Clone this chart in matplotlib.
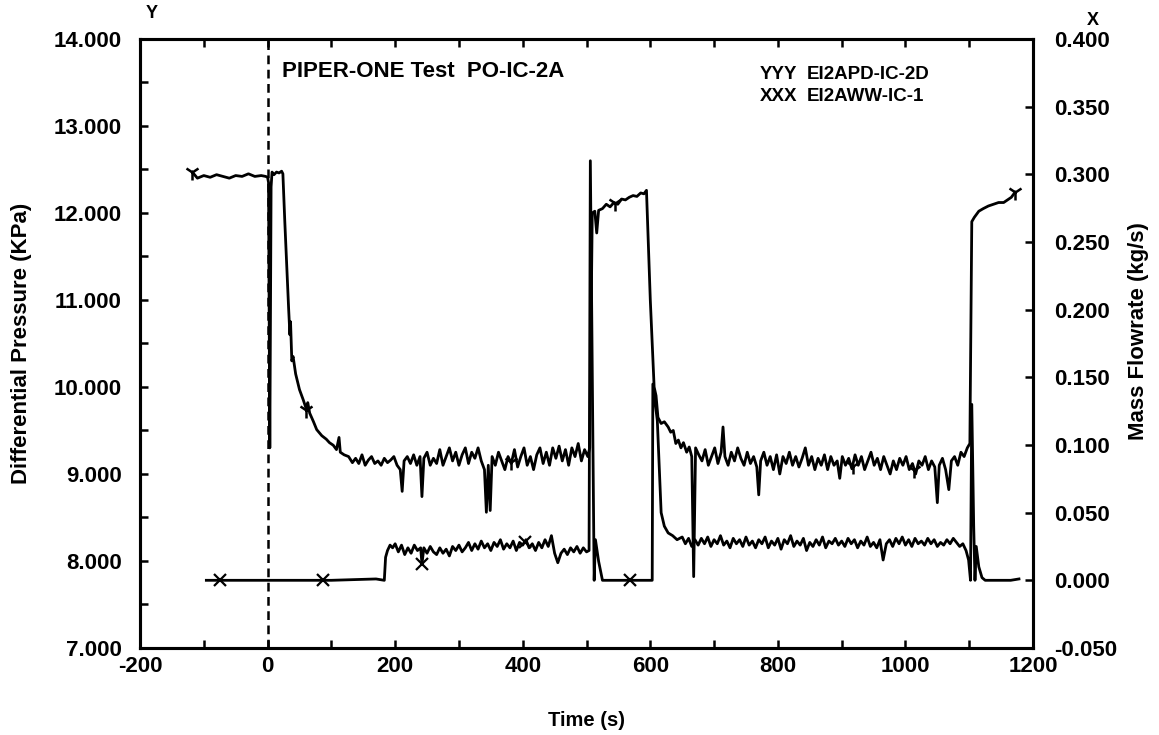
# PIPER-ONE test PO-IC-2A: differential pressure (left axis) and mass flowrate
# (right axis) against time, redrawn from the scanned plot.

import numpy as np
import matplotlib
matplotlib.use('Agg')
import matplotlib.pyplot as plt
from matplotlib.ticker import MultipleLocator, FormatStrFormatter

plt.rcParams['font.family'] = ['Liberation Sans', 'DejaVu Sans']
plt.rcParams['font.weight'] = 'bold'

# ---- curve YYY : EI2APD-IC-2D, differential pressure (KPa) ----
t_dp = [-118, -110, -100, -90, -80, -70, -60, -50, -40, -30, -20, -10, -3, 0,
        1.5, 3.5, 5.5, 7, 10, 14, 18, 22, 24,
        27, 30, 33, 35, 36, 38, 40, 44, 50, 56, 61, 63, 66, 72, 77, 85, 92, 97,
        103, 108, 112, 114, 120, 127, 133,
        138, 143, 148, 153, 158, 163, 168, 173, 178, 183, 188, 193, 198, 203,
        208, 211, 214, 219, 224, 229, 234, 239, 242, 245, 250, 255, 260, 265,
        270, 275, 280, 285, 290, 295, 300, 305, 310, 315, 320, 325, 330, 335,
        340, 343, 346, 349, 352, 357, 362, 367, 372, 377, 382, 387, 392, 397,
        402, 407, 412, 417, 422, 427, 432, 437, 442, 447, 452, 457, 462, 467,
        472, 477, 482, 487, 492, 497, 502, 505,
        509, 513, 516, 519, 525, 531, 537, 543, 549, 555, 561, 567, 573, 579,
        585, 590, 594,
        600, 606, 609, 612, 617, 622, 628, 632, 636, 640, 644, 648, 652, 657, 661,
        665, 668, 671, 676, 681, 686, 691, 696, 701, 706, 711, 714, 717, 722,
        727, 732, 737, 742, 747, 752, 757, 762, 767, 770, 773, 778, 783, 788,
        793, 798, 803, 808, 813, 818, 823, 828, 833, 838, 843, 848, 853, 858,
        863, 868, 873, 878, 883, 888, 893, 897, 901, 906, 911, 916, 921, 926,
        931, 936, 941, 946, 951, 956, 961, 966, 971, 976, 981, 986, 991, 996,
        1001, 1006, 1011, 1016, 1021, 1026, 1031, 1036, 1041, 1046, 1050, 1053,
        1058, 1063, 1068, 1072, 1077, 1082, 1087, 1092, 1097, 1101,
        1104, 1108, 1115, 1122, 1130, 1138, 1146, 1154, 1160, 1166, 1172]
dp = [12.47, 12.40, 12.43, 12.41, 12.44, 12.42, 12.40, 12.43, 12.42, 12.45, 12.42, 12.43, 12.42, 12.41,
      12.35, 9.30, 12.30, 12.47, 12.44, 12.47, 12.46, 12.48, 12.45,
      11.90, 11.40, 10.90, 10.60, 10.75, 10.30, 10.35, 10.15, 9.97, 9.85, 9.74, 9.82, 9.70, 9.60, 9.51, 9.44, 9.40, 9.36,
      9.33, 9.28, 9.42, 9.25, 9.22, 9.20, 9.13,
      9.18, 9.12, 9.22, 9.10, 9.16, 9.20, 9.12, 9.15, 9.10, 9.18, 9.13, 9.16, 9.20, 9.10,
      9.05, 8.80, 9.15, 9.20, 9.12, 9.22, 9.10, 9.20, 8.74, 9.18, 9.25, 9.10, 9.18, 9.12,
      9.28, 9.10, 9.20, 9.30, 9.15, 9.25, 9.10, 9.22, 9.30, 9.12, 9.25, 9.18, 9.30, 9.15,
      9.05, 8.56, 9.10, 8.58, 9.20, 9.10, 9.25, 9.15, 9.05, 9.20, 9.12, 9.28, 9.08, 9.20,
      9.30, 9.10, 9.20, 9.05, 9.22, 9.30, 9.12, 9.25, 9.10, 9.30, 9.18, 9.32, 9.15, 9.28,
      9.10, 9.30, 9.20, 9.35, 9.15, 9.28, 9.20, 9.30,
      12.00, 12.02, 11.77, 12.03, 12.05, 12.10, 12.07, 12.12, 12.10, 12.16, 12.15, 12.18, 12.20, 12.19,
      12.23, 12.22, 12.26,
      11.00, 10.00, 9.90, 9.65, 9.58, 9.60, 9.54, 9.48, 9.50, 9.35, 9.39, 9.30, 9.36, 9.25, 9.31,
      9.20, 7.82, 9.30, 9.22, 9.15, 9.28, 9.10, 9.20, 9.30, 9.12, 9.25, 9.54, 9.20, 9.10,
      9.25, 9.15, 9.30, 9.18, 9.10, 9.25, 9.12, 9.20, 9.08, 8.76, 9.15, 9.25, 9.10, 9.20,
      9.05, 9.22, 9.00, 9.20, 9.12, 9.25, 9.10, 9.20, 9.08, 9.18, 9.30, 9.10, 9.20, 9.05,
      9.18, 9.10, 9.22, 9.05, 9.20, 9.10, 9.15, 8.95, 9.20, 9.10, 9.18, 9.06, 9.22, 9.10,
      9.20, 9.05, 9.15, 9.25, 9.10, 9.18, 9.05, 9.20, 9.10, 9.00, 9.15, 9.05, 9.18, 9.10,
      9.20, 9.05, 9.12, 9.00, 9.15, 9.10, 9.20, 9.05, 9.15, 9.08, 8.67, 9.10,
      9.18, 9.05, 8.82, 9.15, 9.20, 9.10, 9.25, 9.20, 9.30, 9.35,
      11.90, 11.95, 12.02, 12.05, 12.08, 12.10, 12.12, 12.12, 12.15, 12.18, 12.24]
t_dp_marks = [-118, 61, 381, 545, 917, 1014, 1172]

# ---- curve XXX : EI2AWW-IC-1, mass flowrate (kg/s) ----
t_mf = [-96, 0, 100, 170, 183,
        185, 188, 192, 196,
        200, 205, 210, 215, 220, 225, 230, 235, 240, 242, 245, 250, 255, 260,
        265, 270, 275, 280, 285, 290, 295, 300, 305, 310, 315, 320, 325, 330,
        335, 340, 345, 350, 355, 360, 365, 370, 375, 380, 385, 390, 395, 400,
        405, 410, 415, 420, 425, 430, 435, 440, 445, 450, 455, 460, 465, 470,
        475, 480, 485, 490, 495, 500, 504,
        506, 512, 514, 519, 525, 568, 603,
        604, 611, 617, 622, 628, 635, 642, 650,
        655, 660, 665, 670, 675, 680, 685, 690, 695, 700, 705, 710, 715, 720,
        725, 730, 735, 740, 745, 750, 755, 760, 765, 770, 775, 780, 785, 790,
        795, 800, 805, 810, 815, 820, 825, 830, 835, 840, 845, 850, 855, 860,
        865, 870, 875, 880, 885, 890, 895, 900, 905, 910, 915, 920, 925, 930,
        935, 940, 945, 950, 955, 960, 965, 970, 975, 980, 985, 990, 995, 1000,
        1005, 1010, 1015, 1020, 1025, 1030, 1035, 1040, 1045, 1050, 1055, 1060,
        1065, 1070, 1075, 1080, 1085, 1090, 1095, 1099,
        1102, 1104, 1107, 1109, 1111, 1115, 1120, 1125, 1150, 1165, 1178]
mf = [0.0, 0.0, 0.0, 0.001, 0.0,
      0.017, 0.022, 0.026, 0.024,
      0.027, 0.021, 0.026, 0.019, 0.024, 0.020, 0.026, 0.022, 0.024, 0.012, 0.024, 0.020, 0.025, 0.021,
      0.019, 0.024, 0.020, 0.023, 0.018, 0.025, 0.022, 0.026, 0.021, 0.024, 0.028, 0.022, 0.027, 0.023,
      0.029, 0.024, 0.027, 0.022, 0.028, 0.025, 0.030, 0.023, 0.027, 0.024, 0.029, 0.022, 0.028, 0.026,
      0.030, 0.024, 0.027, 0.022, 0.028, 0.024, 0.030, 0.025, 0.033, 0.020, 0.013, 0.020, 0.023, 0.019,
      0.024, 0.021, 0.025, 0.020, 0.024, 0.021, 0.022,
      0.310, 0.000, 0.030, 0.014, 0.000, 0.000, 0.000,
      0.145, 0.118, 0.050, 0.040, 0.035, 0.033, 0.030, 0.032,
      0.027, 0.031, 0.025, 0.030, 0.026, 0.031, 0.027, 0.032, 0.025, 0.030, 0.027, 0.033, 0.026, 0.029,
      0.024, 0.031, 0.027, 0.030, 0.025, 0.032, 0.026, 0.029, 0.024, 0.030, 0.027, 0.032, 0.024, 0.029,
      0.026, 0.031, 0.023, 0.030, 0.027, 0.033, 0.025, 0.029, 0.026, 0.031, 0.022, 0.028, 0.025, 0.030,
      0.026, 0.032, 0.024, 0.029, 0.027, 0.031, 0.026, 0.029, 0.025, 0.031, 0.027, 0.030, 0.024, 0.029,
      0.026, 0.032, 0.025, 0.028, 0.024, 0.030, 0.015, 0.027, 0.030, 0.025, 0.031, 0.027, 0.032, 0.026,
      0.030, 0.025, 0.031, 0.027, 0.029, 0.026, 0.031, 0.027, 0.030, 0.025, 0.028, 0.026,
      0.030, 0.027, 0.031, 0.028, 0.025, 0.027, 0.022, 0.015,
      0.000, 0.130, 0.040, 0.000, 0.025, 0.010, 0.002, 0.000, 0.000, 0.000, 0.001]
t_mf_marks = [-74, 87, 242, 403, 568]

fig = plt.figure(figsize=(11.59, 7.35), dpi=100)
ax = fig.add_axes([0.1208, 0.1184, 0.7705, 0.8286])
ax2 = ax.twinx()

ax.plot(t_dp, dp, color='k', lw=2.0)
ax.plot(t_dp_marks, np.interp(t_dp_marks, t_dp, dp), ls='none', color='k',
        marker='1', ms=11, mew=1.8)
ax2.plot(t_mf, mf, color='k', lw=2.0)
ax2.plot(t_mf_marks, np.interp(t_mf_marks, t_mf, mf), ls='none', color='k',
         marker='x', ms=8, mew=1.6)

ax.axvline(0, color='k', lw=1.8, ls=(0, (3.5, 2.2)))

ax.set_xlim(-200, 1200)
ax.set_ylim(7, 14)
ax2.set_ylim(-0.05, 0.4)

ax.xaxis.set_major_locator(MultipleLocator(200))
ax.xaxis.set_minor_locator(MultipleLocator(100))
ax.xaxis.set_major_formatter(FormatStrFormatter('%d'))
ax.yaxis.set_major_locator(MultipleLocator(1))
ax.yaxis.set_minor_locator(MultipleLocator(0.5))
ax.yaxis.set_major_formatter(FormatStrFormatter('%.3f'))
ax2.yaxis.set_major_locator(MultipleLocator(0.05))
ax2.yaxis.set_major_formatter(FormatStrFormatter('%.3f'))

ax.tick_params(which='both', direction='in', top=True, bottom=True, left=True,
               right=False, length=6, width=1.8)
ax.tick_params(axis='x', labelsize=16, pad=6)
ax.tick_params(axis='y', labelsize=16, pad=13)
ax2.tick_params(direction='in', right=True, left=False, top=False, bottom=False,
                length=6, width=1.8, labelsize=16, pad=15)

for a in (ax, ax2):
    for s in a.spines.values():
        s.set_linewidth(2.2)

ax.set_xlabel('Time (s)', fontsize=14.5, fontweight='bold')
ax.xaxis.set_label_coords(0.5, -0.104)
ax.set_ylabel('Differential Pressure (KPa)', fontsize=16, fontweight='bold')
ax.yaxis.set_label_coords(-0.121, 0.5)
ax2.set_ylabel('Mass Flowrate (kg/s)', fontsize=16, fontweight='bold', rotation=90)
ax2.yaxis.set_label_coords(1.106, 0.52)

ax.text(0.159, 0.946, 'PIPER-ONE Test  PO-IC-2A', transform=ax.transAxes,
        fontsize=16, fontweight='bold', va='center', ha='left')
ax.text(0.694, 0.941, 'YYY', transform=ax.transAxes, fontsize=13.5, va='center')
ax.text(0.747, 0.941, 'EI2APD-IC-2D', transform=ax.transAxes, fontsize=13.5, va='center')
ax.text(0.694, 0.906, 'XXX', transform=ax.transAxes, fontsize=13.5, va='center')
ax.text(0.747, 0.906, 'EI2AWW-IC-1', transform=ax.transAxes, fontsize=13.5, va='center')

ax.text(0.0134, 1.041, 'Y', transform=ax.transAxes, fontsize=13, ha='center', va='center')
ax.text(1.067, 1.03, 'X', transform=ax.transAxes, fontsize=13, ha='center', va='center')

fig.savefig('out.png', dpi=100)
